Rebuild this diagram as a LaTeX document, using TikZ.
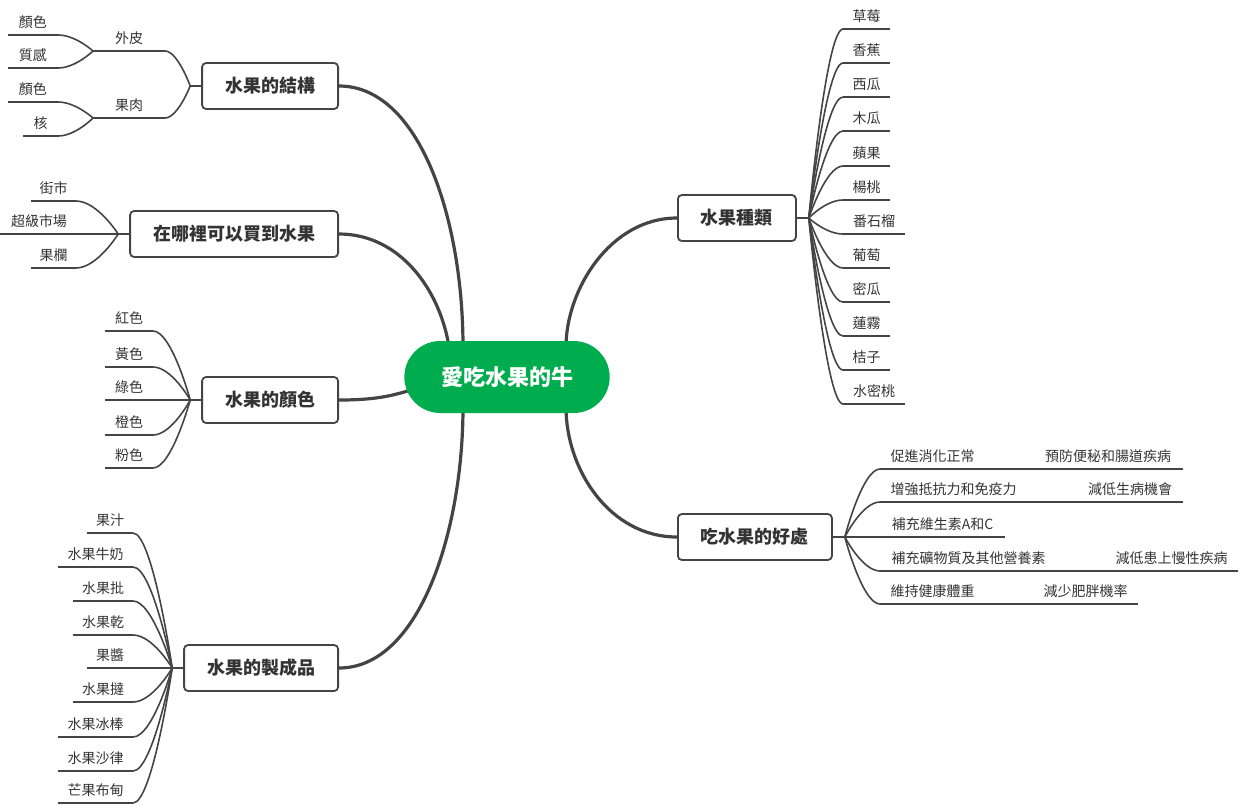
\documentclass[tikz,border=0pt]{standalone}
\usepackage{fontspec}
\setmainfont{Noto Sans CJK TC}
\usetikzlibrary{shapes.misc,calc,backgrounds}
\definecolor{ln}{HTML}{444444}
\definecolor{tx}{HTML}{333333}
\definecolor{pillgreen}{HTML}{00AD4E}
\tikzset{
 box/.style={draw=ln, line width=1.8pt, rounded corners=4pt, fill=white, text=tx, font=\fontsize{18}{20}\selectfont\bfseries, minimum height=46pt, inner xsep=23pt, inner ysep=0pt},
 leaf/.style={inner xsep=0pt, inner ysep=6.5pt, text=tx, font=\fontsize{14}{16}\selectfont, outer sep=0pt},
 sub/.style={draw=ln, line width=1.6pt},
 mainln/.style={draw=ln, line width=3.2pt},
}
\newcommand\leafnode[5]{\node[leaf, minimum width={(#3-#2)*1pt}, anchor=south west] (#1) at (#2,#4) {#5}; \draw[sub] (#1.south west) -- (#1.south east);}
\newcommand\lconn[2]{\draw[sub] let \p1=(#1), \p2=(#2.south east) in (\p1) .. controls (\p1) and ({\x2+0.5*(\x1-\x2)},\y2) .. (\p2);}
\newcommand\rconn[2]{\draw[sub] let \p1=(#1), \p2=(#2.south west) in (\p1) .. controls (\p1) and ({\x2-0.5*(\x2-\x1)},\y2) .. (\p2);}
\begin{document}
\begin{tikzpicture}[x=1pt,y=-1pt]
\useasboundingbox (0,0) rectangle (1240,804);
\node[rounded rectangle, fill=pillgreen, minimum width=212pt, minimum height=72pt, text=white, font=\fontsize{22}{24}\selectfont\bfseries] (c) at (507,377) {愛吃水果的牛};
\node[box, anchor=east] (b1) at (339,86) {水果的結構};
\node[box, anchor=east] (b2) at (339,234) {在哪裡可以買到水果};
\node[box, anchor=east] (b3) at (339,400) {水果的顏色};
\node[box, anchor=east] (b4) at (339,668) {水果的製成品};
\node[box, anchor=west] (b5) at (677,218) {水果種類};
\node[box, anchor=west] (b6) at (677,537) {吃水果的好處};
\begin{scope}[on background layer]
\draw[mainln] (b1.east) .. controls (420,86) and (463,220) .. ([xshift=-44pt,yshift=-6pt]c.north);
\draw[mainln] (b2.east) .. controls (400,234) and (440,290) .. ([xshift=-58pt,yshift=-6pt]c.north);
\draw[mainln] (b3.east) .. controls (375,400) and (392,396) .. ([shift={(10pt,-12pt)}]c.west);
\draw[mainln] (b4.east) .. controls (420,668) and (463,530) .. ([xshift=-44pt,yshift=6pt]c.south);
\draw[mainln] (b5.west) .. controls (610,218) and (566,290) .. ([xshift=59pt,yshift=-6pt]c.north);
\draw[mainln] (b6.west) .. controls (610,537) and (566,470) .. ([xshift=59pt,yshift=6pt]c.south);
\end{scope}
\coordinate (h1) at ([xshift=-11pt]b1.west);
\coordinate (h2) at ([xshift=-11pt]b2.west);
\coordinate (h3) at ([xshift=-11pt]b3.west);
\coordinate (h4) at ([xshift=-11pt]b4.west);
\coordinate (h5) at ([xshift=12pt]b5.east);
\coordinate (h6) at ([xshift=12pt]b6.east);
\draw[sub] (b1.west) -- (h1);
\draw[sub] (b2.west) -- (h2);
\draw[sub] (b3.west) -- (h3);
\draw[sub] (b4.west) -- (h4);
\draw[sub] (b5.east) -- (h5);
\draw[sub] (b6.east) -- (h6);
% group 1
\leafnode{wp}{93}{165}{51}{外皮}
\leafnode{gro}{93}{165}{118}{果肉}
\lconn{h1}{wp}
\lconn{h1}{gro}
\leafnode{ysa}{8}{58}{35}{顏色}
\leafnode{zg}{8}{58}{68}{質感}
\lconn{wp.south west}{ysa}
\lconn{wp.south west}{zg}
\leafnode{ysb}{8}{58}{102}{顏色}
\leafnode{he}{23}{58}{136}{核}
\lconn{gro.south west}{ysb}
\lconn{gro.south west}{he}
% group 2
\leafnode{js}{31}{76}{201}{街市}
\leafnode{cj}{0}{78}{234}{超級市場}
\leafnode{gl}{31}{76}{268}{果欄}
\lconn{h2}{js}
\lconn{h2}{cj}
\lconn{h2}{gl}
% group 3
\leafnode{hs}{105}{153}{331}{紅色}
\leafnode{hu}{105}{153}{367}{黃色}
\leafnode{ls}{105}{153}{400}{綠色}
\leafnode{cs}{105}{153}{435}{橙色}
\leafnode{fs}{105}{153}{468}{粉色}
\lconn{h3}{hs}
\lconn{h3}{hu}
\lconn{h3}{ls}
\lconn{h3}{cs}
\lconn{h3}{fs}
% group 4
\leafnode{p1}{87}{133}{533}{果汁}
\leafnode{p2}{58}{133}{567}{水果牛奶}
\leafnode{p3}{73}{133}{601}{水果批}
\leafnode{p4}{73}{133}{635}{水果乾}
\leafnode{p5}{87}{133}{668}{果醬}
\leafnode{p6}{73}{133}{702}{水果撻}
\leafnode{p7}{58}{133}{737}{水果冰棒}
\leafnode{p8}{58}{133}{771}{水果沙律}
\leafnode{p9}{58}{133}{803}{芒果布甸}
\foreach \q in {p1,p2,p3,p4,p5,p6,p7,p8,p9} {\lconn{h4}{\q}}
% group 5
\leafnode{k1}{843}{890}{29}{草莓}
\leafnode{k2}{843}{890}{63}{香蕉}
\leafnode{k3}{843}{890}{97}{西瓜}
\leafnode{k4}{843}{890}{131}{木瓜}
\leafnode{k5}{843}{890}{166}{蘋果}
\leafnode{k6}{843}{890}{200}{楊桃}
\leafnode{k7}{843}{905}{234}{番石榴}
\leafnode{k8}{843}{890}{268}{葡萄}
\leafnode{k9}{843}{890}{302}{密瓜}
\leafnode{k10}{843}{890}{336}{蓮霧}
\leafnode{k11}{843}{890}{370}{桔子}
\leafnode{k12}{843}{905}{404}{水密桃}
\foreach \q in {k1,k2,k3,k4,k5,k6,k7,k8,k9,k10,k11,k12} {\rconn{h5}{\q}}
% group 6
\leafnode{r1}{880}{985}{469}{促進消化正常}
\leafnode{r1b}{1033}{1183}{469}{預防便秘和腸道疾病}
\leafnode{r2}{880}{1027}{502}{增強抵抗力和免疫力}
\leafnode{r2b}{1077}{1183}{502}{減低生病機會}
\leafnode{r3}{880}{1005}{537}{補充維生素A和C}
\leafnode{r4}{880}{1057}{571}{補充礦物質及其他營養素}
\leafnode{r4b}{1105}{1238}{571}{減低患上慢性疾病}
\leafnode{r5}{880}{985}{604}{維持健康體重}
\leafnode{r5b}{1033}{1138}{604}{減少肥胖機率}
\foreach \q in {r1,r2,r3,r4,r5} {\rconn{h6}{\q}}
\draw[sub] (r1.south east) -- (r1b.south west);
\draw[sub] (r2.south east) -- (r2b.south west);
\draw[sub] (r4.south east) -- (r4b.south west);
\draw[sub] (r5.south east) -- (r5b.south west);
\end{tikzpicture}
\end{document}
